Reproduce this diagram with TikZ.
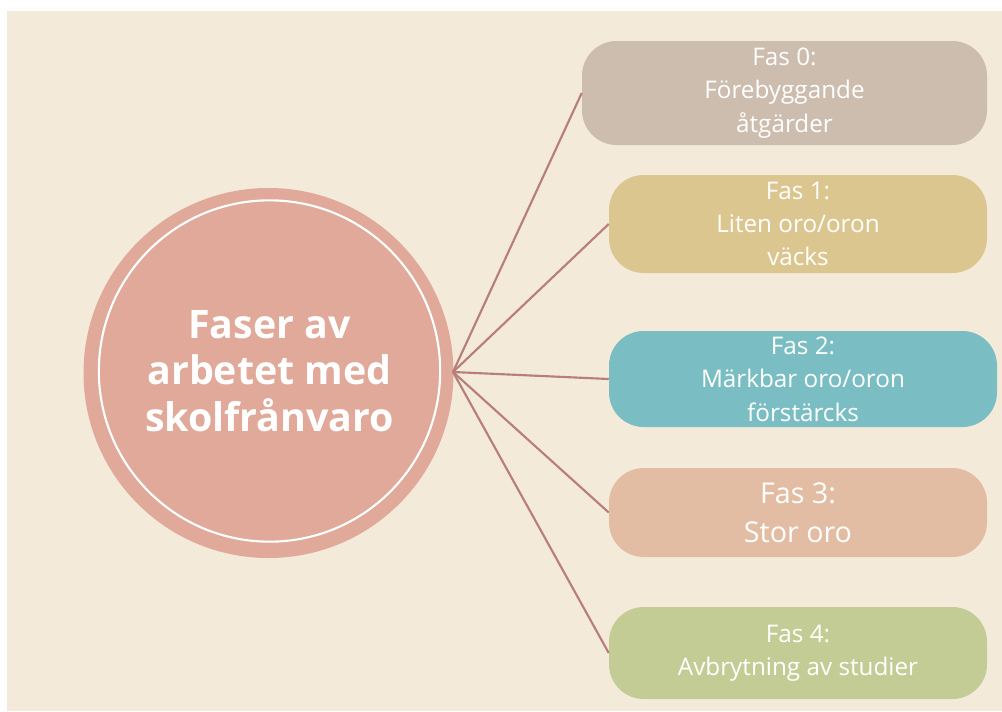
\documentclass[tikz,border=0pt]{standalone}
\usepackage{fontspec}
\setmainfont{Open Sans}
\usetikzlibrary{positioning}
\definecolor{bgbeige}{HTML}{F3EAD9}
\definecolor{circpink}{HTML}{E0A99A}
\definecolor{linebrown}{HTML}{B77F78}
\definecolor{fasgrey}{HTML}{CDBDAE}
\definecolor{fasyellow}{HTML}{DCC68F}
\definecolor{fasteal}{HTML}{7ABEC3}
\definecolor{faspeach}{HTML}{E2BDA3}
\definecolor{fasgreen}{HTML}{C4CC95}
\tikzset{
    hubcircle/.style={circle,fill=circpink,minimum size=277.5pt,inner sep=0pt},
    hubring/.style={circle,draw=white,line width=1.6pt,minimum size=256pt,inner sep=0pt,align=center,text=white,font=\fontsize{29.5}{35}\selectfont\bfseries},
    fasbox/.style={rounded corners=26pt,minimum height=72pt,align=center,text=white,inner sep=0pt,font=\fontsize{18.2}{25}\selectfont},
    spoke/.style={draw=linebrown,line width=1.6pt}
}
\begin{document}
\begin{tikzpicture}[x=0.75pt,y=-0.75pt]
    \useasboundingbox (0,0) rectangle (1002,711);
    \fill[bgbeige] (7,11) rectangle (1002,711);

    % central circle
    \node[hubcircle] (hub) at (268.5,373) {};
    \node[hubring] (hubtext) at (269.5,371) {Faser av\\arbetet med\\skolfrånvaro};

    % phase boxes
    \node[fasbox,fill=fasgrey,minimum width=303.75pt,minimum height=78pt] (fas0) at (784.5,93) {Fas 0:\\Förebyggande\\åtgärder};
    \node[fasbox,fill=fasyellow,minimum width=283.5pt,minimum height=73.5pt] (fas1) at (798,224) {Fas 1:\\Liten oro/oron\\väcks};
    \node[fasbox,fill=fasteal,minimum width=291pt] (fas2) at (803,379) {Fas 2:\\Märkbar oro/oron\\förstärcks};
    \node[fasbox,fill=faspeach,minimum width=283.5pt,minimum height=66.75pt,font=\fontsize{21.5}{29.5}\selectfont] (fas3) at (798,512.5) {Fas 3:\\Stor oro};
    \node[fasbox,fill=fasgreen,minimum width=283.5pt,minimum height=69pt] (fas4) at (798,653) {Fas 4:\\Avbrytning av studier};

    % spokes
    \coordinate (hubedge) at (453,372);
    \foreach \n in {0,...,4}
        \draw[spoke] (hubedge) -- (fas\n.west);
\end{tikzpicture}
\end{document}
